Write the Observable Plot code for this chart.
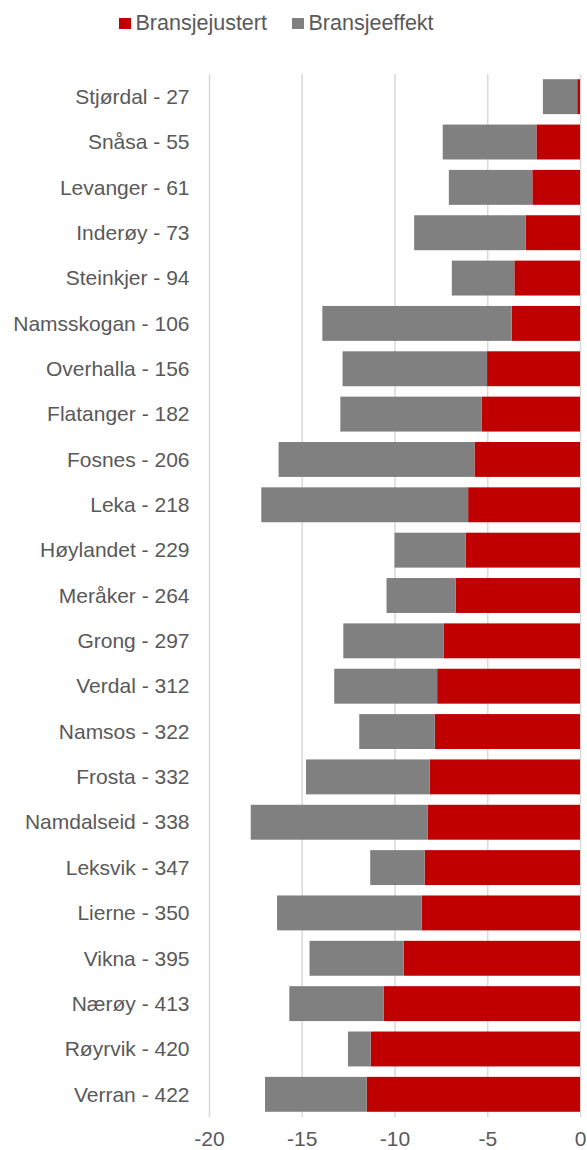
<!DOCTYPE html>
<html>
<head>
<meta charset="utf-8">
<script src="https://cdn.jsdelivr.net/npm/d3@7"></script>
<script src="https://cdn.jsdelivr.net/npm/@observablehq/plot@0.6"></script>
<style>
  html, body { margin: 0; padding: 0; background: #fff; }
  body { width: 587px; height: 1150px; position: relative; font-family: "Liberation Sans", Arial, sans-serif; }
  #legend { position: relative; height: 50px; color: #595959; font-size: 21.5px; }
  .item { position: absolute; top: 11px; display: flex; align-items: center; white-space: nowrap; }
  .sw { width: 11.5px; height: 11.5px; margin-right: 5px; display: inline-block; }
</style>
</head>
<body>
<div id="legend"></div>
<div id="chart"></div>
<script>
const kommuner = ["Stjørdal - 27","Snåsa - 55","Levanger - 61","Inderøy - 73","Steinkjer - 94","Namsskogan - 106","Overhalla - 156","Flatanger - 182","Fosnes - 206","Leka - 218","Høylandet - 229","Meråker - 264","Grong - 297","Verdal - 312","Namsos - 322","Frosta - 332","Namdalseid - 338","Leksvik - 347","Lierne - 350","Vikna - 395","Nærøy - 413","Røyrvik - 420","Verran - 422"];
const bransjejustert = [-0.15,-2.35,-2.57,-2.92,-3.54,-3.68,-5.01,-5.31,-5.69,-6.03,-6.17,-6.71,-7.36,-7.70,-7.83,-8.11,-8.22,-8.38,-8.54,-9.51,-10.59,-11.29,-11.50];
const bransjeeffekt = [-1.85,-5.05,-4.50,-6.02,-3.37,-10.21,-7.79,-7.61,-10.56,-11.15,-3.83,-3.72,-5.40,-5.55,-4.07,-6.66,-9.53,-2.93,-7.79,-5.07,-5.08,-1.22,-5.48];
const seriesNames = ["Bransjejustert","Bransjeeffekt"];
const seriesColors = ["#C00000","#808080"];
const xTicks = [-20,-15,-10,-5,0];

const rows = [];
kommuner.forEach((k, i) => {
  rows.push({kommune: k, serie: seriesNames[0], verdi: bransjejustert[i]});
  rows.push({kommune: k, serie: seriesNames[1], verdi: bransjeeffekt[i]});
});

// legend
const legend = document.getElementById("legend");
const legendX = [119, 292];
seriesNames.forEach((s, i) => {
  const it = document.createElement("div");
  it.className = "item";
  it.style.left = legendX[i] + "px";
  it.innerHTML = `<span class="sw" style="background:${seriesColors[i]}"></span><span>${s}</span>`;
  legend.appendChild(it);
});

const chart = Plot.plot({
  width: 587,
  height: 1100,
  marginTop: 24,
  marginBottom: 33,
  marginLeft: 209,
  marginRight: 7,
  style: {fontFamily: "Liberation Sans, Arial, sans-serif", fontSize: "21px", color: "#595959", background: "#fff"},
  x: {domain: [-20, 0], ticks: xTicks, tickFormat: d => String(d), label: null},
  y: {domain: kommuner, paddingInner: 0.23, paddingOuter: 0.115, round: false, label: null},
  color: {domain: seriesNames, range: seriesColors},
  marks: [
    Plot.ruleX(xTicks, {stroke: "#d9d9d9", strokeWidth: 1.5}),
    Plot.barX(rows, Plot.stackX({x: "verdi", y: "kommune", fill: "serie", order: null})),
    Plot.axisX({ticks: xTicks, tickSize: 0, tickPadding: 14, tickFormat: d => String(d), label: null, fill: "#595959"}),
    Plot.axisY({tickSize: 0, tickPadding: 20, label: null, fill: "#595959"})
  ]
});
document.getElementById("chart").appendChild(chart);
</script>
</body>
</html>
